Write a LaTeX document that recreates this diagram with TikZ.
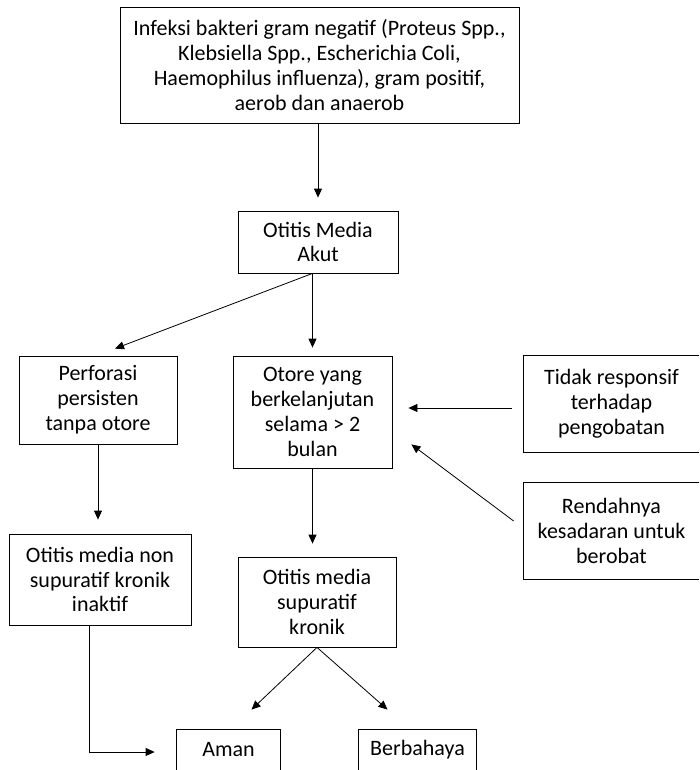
\documentclass[tikz,border=0pt]{standalone}
\usepackage{fontspec}
\setmainfont{Carlito}
\usetikzlibrary{arrows.meta}

\begin{document}
\begin{tikzpicture}[x=1pt, y=-1pt,
    box/.style={draw, line width=0.8pt, align=center, inner sep=0pt, font=\fontsize{22}{24.8}\selectfont},
    openbox/.style={box, draw=none},
    arr/.style={-{Triangle[length=9pt, width=8pt]}, line width=0.8pt}]
    \useasboundingbox (0,0) rectangle (699,770);

    \node[box, minimum width=399pt, minimum height=116pt] (Inf) at (319.5,65)
        {Infeksi bakteri gram negatif (Proteus Spp.,\\ Klebsiella Spp., Escherichia Coli,\\ Haemophilus influenza), gram positif,\\ aerob dan anaerob};
    \node[box, minimum width=160pt, minimum height=62pt] (OMA) at (318,242) {Otitis Media\\ Akut};

    \node[box, minimum width=158pt, minimum height=88pt] (Perf) at (98,400) {Perforasi\\ persisten\\ tanpa otore};
    \node[box, minimum width=159pt, minimum height=112pt] (Otore) at (312.5,412) {Otore yang\\ berkelanjutan\\ selama > 2\\ bulan};
    \node[openbox, minimum width=175pt, minimum height=96pt] (Tidak) at (611.5,404) {Tidak responsif\\ terhadap\\ pengobatan};
    \node[openbox, minimum width=175pt, minimum height=96pt] (Rendah) at (611.5,531) {Rendahnya\\ kesadaran untuk\\ berobat};

    \node[box, minimum width=182pt, minimum height=91pt] (OMNSK) at (100,579.5) {Otitis media non\\ supuratif kronik\\ inaktif};
    \node[box, minimum width=158pt, minimum height=90pt] (OMSK) at (317,602) {Otitis media\\ supuratif\\ kronik};

    \node[openbox, minimum width=103pt, minimum height=40pt] (Aman) at (228.5,750) {Aman};
    \node[openbox, minimum width=117pt, minimum height=40pt] (Bahaya) at (417.5,750) {Berbahaya};

    % boxes cut by the page edge
    \draw[line width=0.8pt] (Tidak.north east) -- (Tidak.north west) -- (Tidak.south west) -- (Tidak.south east);
    \draw[line width=0.8pt] (Rendah.north east) -- (Rendah.north west) -- (Rendah.south west) -- (Rendah.south east);
    \draw[line width=0.8pt] (Aman.south west) -- (Aman.north west) -- (Aman.north east) -- (Aman.south east);
    \draw[line width=0.8pt] (Bahaya.south west) -- (Bahaya.north west) -- (Bahaya.north east) -- (Bahaya.south east);

    \coordinate (OMAout) at (Otore.north |- OMA.south);

    \draw[arr, shorten >=13pt] (Inf.south -| OMA.south) -- (OMA.north);
    \draw[arr] (OMAout) -- ([xshift=17pt, yshift=7pt]Perf.north);
    \draw[arr, shorten >=8pt] (OMAout) -- (Otore.north);
    \draw[arr, shorten >=14pt] (Perf.south) -- (Perf.south |- OMNSK.north);
    \draw[arr, shorten >=13pt] (Otore.south) -- (Otore.south |- OMSK.north);
    \draw[arr, shorten <=12pt, shorten >=16pt] ([yshift=-4pt]Tidak.west) -- ([yshift=-4pt]Tidak.west -| Otore.east);
    \draw[arr] ([xshift=-10pt, yshift=10pt]Rendah.west) -- ([xshift=19pt, yshift=24pt]Otore.south east);

    \draw[arr] (OMSK.south) -- ([xshift=23pt, yshift=20pt]Aman.north);
    \draw[arr] (OMSK.south) -- ([xshift=-30pt, yshift=20pt]Bahaya.north);
    \draw[arr] ([xshift=-11pt]OMNSK.south) |- ([xshift=-22pt, yshift=-2pt]Aman.west);
\end{tikzpicture}
\end{document}
